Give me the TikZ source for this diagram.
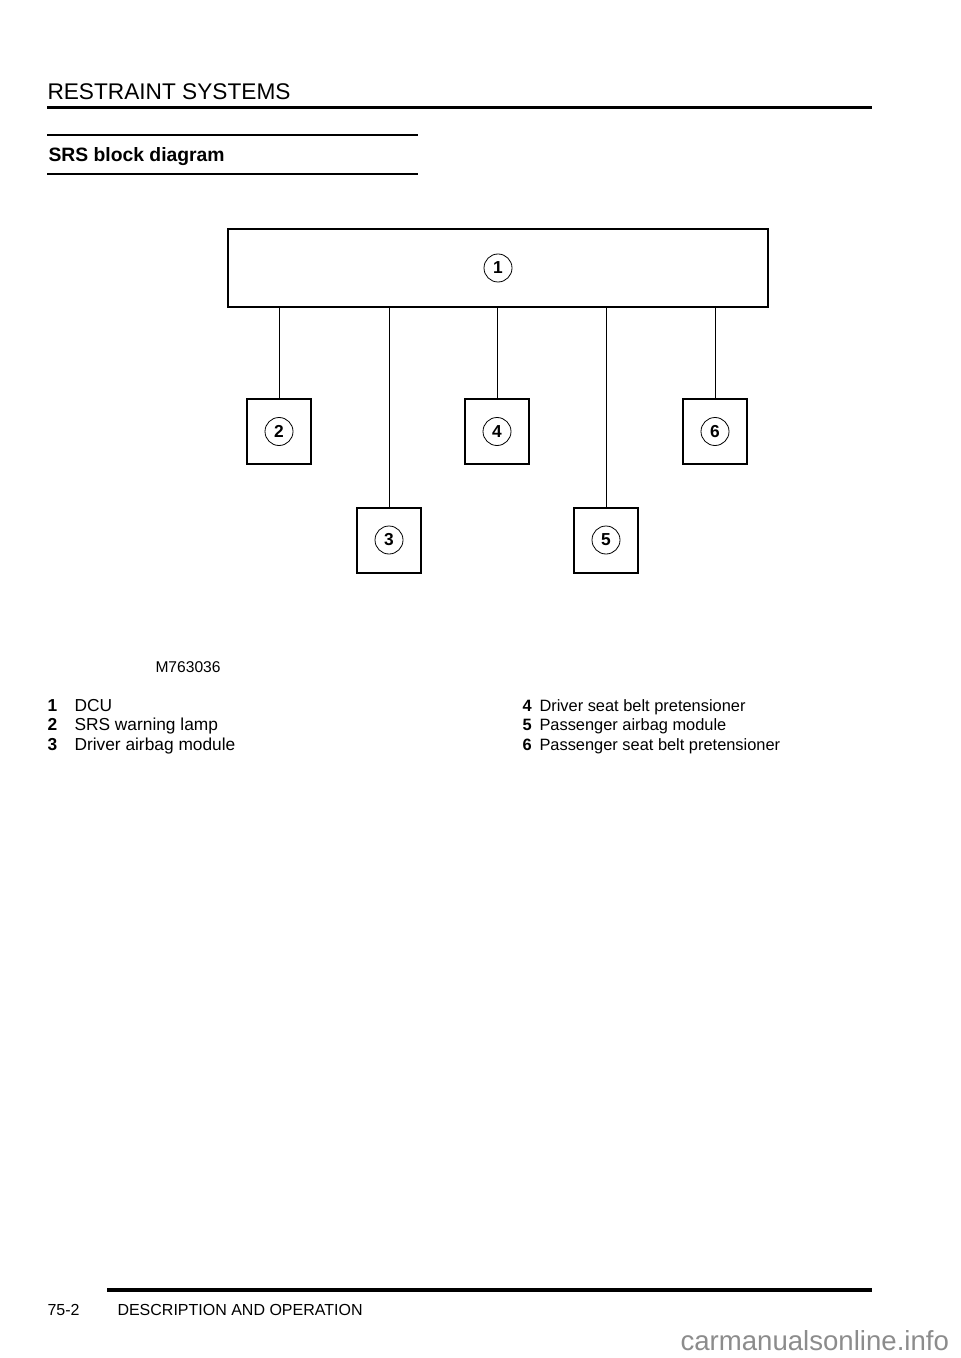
\documentclass[tikz,border=0pt]{standalone}
\usepackage{fontspec}
\setmainfont{Liberation Sans}
\usetikzlibrary{positioning}

\tikzset{every picture/.style={line width=0.75pt}}
\tikzset{
  unitbox/.style={draw, line width=1.5pt, minimum width=48pt, minimum height=48.75pt, inner sep=0pt},
  numcirc/.style={draw, circle, line width=0.6pt, minimum size=21pt, inner sep=0pt, font=\fontsize{13}{15}\selectfont\bfseries},
  wire/.style={line width=0.75pt},
  legend/.style={anchor=base west, inner sep=0pt, font=\fontsize{13}{15}\selectfont},
  legnum/.style={anchor=base west, inner sep=0pt, font=\fontsize{13}{15}\selectfont\bfseries},
  legendr/.style={legend, font=\fontsize{12.3}{15}\selectfont},
  legnumr/.style={legnum, font=\fontsize{12.3}{15}\selectfont\bfseries}
}

\begin{document}
\begin{tikzpicture}[x=0.75pt,y=0.75pt,yscale=-1,xscale=1]
	\useasboundingbox (0,0) rectangle (960,1358);

	% Page header
	\draw (47,100) node [anchor=base west, inner sep=0pt, font=\fontsize{17}{20}\selectfont]  {RESTRAINT SYSTEMS};
	\draw [line width=2.25pt]  (47,108) -- (872,108) ;
	% Section title
	\draw [line width=1.5pt]  (47,135) -- (418,135) ;
	\draw (48,162) node [anchor=base west, inner sep=0pt, font=\fontsize{14.5}{17}\selectfont\bfseries]  {SRS block diagram};
	\draw [line width=1.5pt]  (47,174) -- (418,174) ;

	% DCU
	\node [draw, line width=1.5pt, minimum width=405pt, minimum height=58.5pt, inner sep=0pt] (dcu) at (498,268) {};
	\node [numcirc] (n1) at (dcu.center) {1};

	% Units
	\node [unitbox] (lamp) at (279,431.5) {};
	\node [numcirc] (n2) at (lamp.center) {2};
	\node [unitbox] (drvbag) at (389,540) {};
	\node [numcirc] (n3) at (drvbag.center) {3};
	\node [unitbox] (drvbelt) at (497,431.5) {};
	\node [numcirc] (n4) at (drvbelt.center) {4};
	\node [unitbox] (pasbag) at (606,540) {};
	\node [numcirc] (n5) at (pasbag.center) {5};
	\node [unitbox] (pasbelt) at (715,431.5) {};
	\node [numcirc] (n6) at (pasbelt.center) {6};

	% Wiring
	\foreach \unit in {lamp,drvbag,drvbelt,pasbag,pasbelt}
		\draw [wire]  (dcu.south -| \unit.north) -- (\unit.north) ;

	% Figure number
	\draw (155,672) node [anchor=base west, inner sep=0pt, font=\fontsize{11.7}{14}\selectfont]  {M763036};

	% Legend
	\draw (47,711) node [legnum]  {1};
	\draw (74,711) node [legend]  {DCU};
	\draw (47,730.5) node [legnum]  {2};
	\draw (74,730.5) node [legend]  {SRS warning lamp};
	\draw (47,750) node [legnum]  {3};
	\draw (74,750) node [legend]  {Driver airbag module};
	\draw (522,711) node [legnumr]  {4};
	\draw (539,711) node [legendr]  {Driver seat belt pretensioner};
	\draw (522,730.5) node [legnumr]  {5};
	\draw (539,730.5) node [legendr]  {Passenger airbag module};
	\draw (522,750) node [legnumr]  {6};
	\draw (539,750) node [legendr]  {Passenger seat belt pretensioner};

	% Page footer
	\draw [line width=3pt]  (107,1290) -- (872,1290) ;
	\draw (47,1315) node [anchor=base west, inner sep=0pt, font=\fontsize{12}{14}\selectfont]  {75-2};
	\draw (117,1315) node [anchor=base west, inner sep=0pt, font=\fontsize{12}{14}\selectfont]  {DESCRIPTION AND OPERATION};
	\draw (680,1350) node [anchor=base west, inner sep=0pt, text=black!45, font=\fontsize{20.7}{24}\selectfont]  {carmanualsonline.info};

\end{tikzpicture}
\end{document}
